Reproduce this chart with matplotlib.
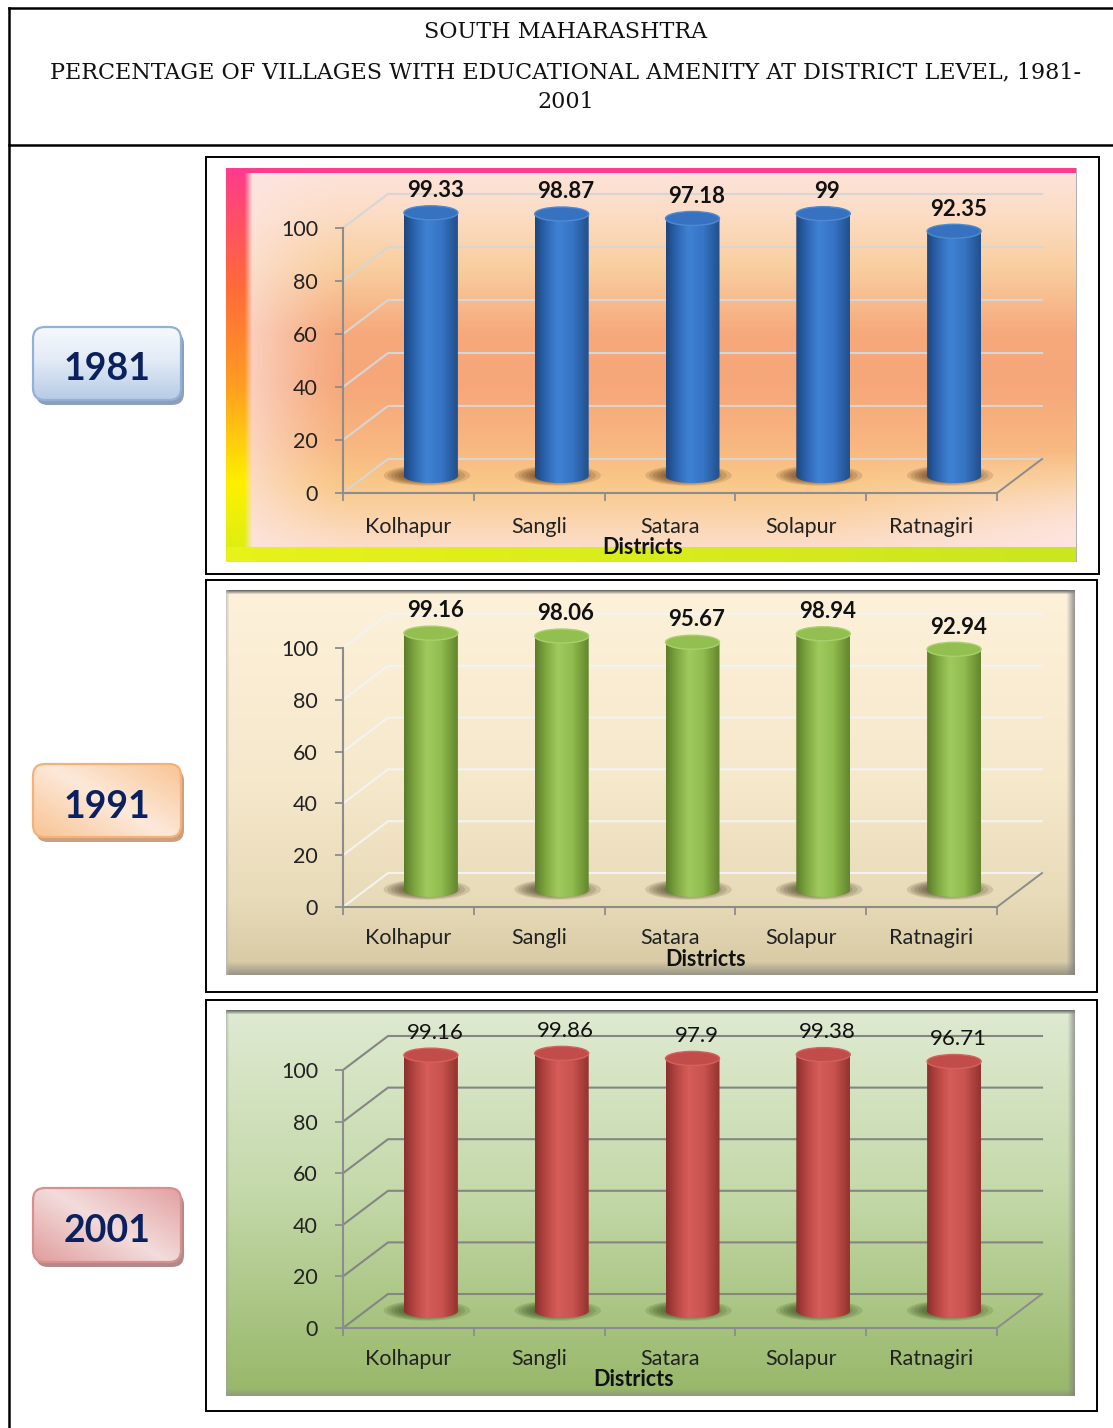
import numpy as np
import matplotlib
matplotlib.use("Agg")
import matplotlib.pyplot as plt
from matplotlib.patches import Ellipse, PathPatch, FancyBboxPatch, Rectangle
from matplotlib.path import Path
from matplotlib.colors import LinearSegmentedColormap, to_rgb

# === data ===
districts = ["Kolhapur", "Sangli", "Satara", "Solapur", "Ratnagiri"]
pct_1981 = [99.33, 98.87, 97.18, 99, 92.35]
pct_1991 = [99.16, 98.06, 95.67, 98.94, 92.94]
pct_2001 = [99.16, 99.86, 97.9, 99.38, 96.71]
y_ticks = [0, 20, 40, 60, 80, 100]
years = ["1981", "1991", "2001"]
title_lines = ["SOUTH MAHARASHTRA",
               "PERCENTAGE OF VILLAGES WITH EDUCATIONAL AMENITY AT DISTRICT LEVEL, 1981-",
               "2001"]

W, H = 1113, 1428
FONT = "Lato"
fig = plt.figure(figsize=(W / 100, H / 100), dpi=100)


def px_axes(x0, y0, x1, y1):
    return fig.add_axes([x0 / W, 1 - y1 / H, (x1 - x0) / W, (y1 - y0) / H])


def blend(stops, t):
    # stops: list of (pos, colour); t: array in 0..1 -> rgb array
    pos = [p for p, _ in stops]
    cols = np.array([to_rgb(c) for _, c in stops])
    out = np.stack([np.interp(t, pos, cols[:, k]) for k in range(3)], axis=-1)
    return out


def bevel(img, side, n, col, strength):
    c = np.array(to_rgb(col))
    a = np.linspace(strength, 0, n)
    if side == "top":
        img[:n] = img[:n] * (1 - a[:, None, None]) + c * a[:, None, None]
    elif side == "bottom":
        a = a[::-1]
        img[-n:] = img[-n:] * (1 - a[:, None, None]) + c * a[:, None, None]
    elif side == "left":
        img[:, :n] = img[:, :n] * (1 - a[None, :, None]) + c * a[None, :, None]
    elif side == "right":
        a = a[::-1]
        img[:, -n:] = img[:, -n:] * (1 - a[None, :, None]) + c * a[None, :, None]
    return img


# === backgrounds ===
def bg_1981(hh, ww):
    u = np.linspace(0, 1, ww)[None, :]
    v = np.linspace(0, 1, hh)
    col = blend([(0, "#fde4dc"), (0.12, "#fcdcc4"), (0.25, "#f9cfa0"), (0.42, "#f6a97c"),
                 (0.55, "#f6a77a"), (0.7, "#f8b680"), (0.8, "#f9c888"), (0.92, "#fbd8b8"),
                 (1, "#fce2dc")], v)
    img = np.repeat(col[:, None, :], ww, axis=1)
    # pale left side and pinkish lower right
    pale = np.array(to_rgb("#fde7e6"))
    wl = np.clip(1 - u / 0.14, 0, 1) ** 1.3 * 0.85
    vv = v[:, None]
    wr = np.clip((u - 0.72) / 0.28, 0, 1) * np.clip((vv - 0.72) / 0.2, 0, 1) * 0.8
    wt = np.maximum(wl, wr)
    img = img * (1 - wt)[..., None] + pale * wt[..., None]
    # left colour strip
    strip = blend([(0, "#ff3a8c"), (0.3, "#ff6a3a"), (0.55, "#ff9c22"),
                   (0.8, "#fff000"), (1, "#d6ee18")], v)
    for k in range(26):
        a = 1.0 if k < 19 else (26 - k) / 8
        img[:, k] = img[:, k] * (1 - a) + strip * a
    img[:6] = to_rgb("#ff3d8c")
    img[-15:] = blend([(0, "#e8f21a"), (1, "#c9e620")], np.linspace(0, 1, ww))[None, :, :]
    img[:, -1] = to_rgb("#b0b0b0")
    return img


def bg_1991(hh, ww):
    v = np.linspace(0, 1, hh)
    col = blend([(0, "#fdf1da"), (0.5, "#f6e8cb"), (0.8, "#e8dbb9"), (1, "#d6c8a2")], v)
    img = np.repeat(col[:, None, :], ww, axis=1)
    img = bevel(img, "top", 5, "#606060", 0.9)
    img = bevel(img, "bottom", 14, "#8a8a80", 0.8)
    img = bevel(img, "right", 9, "#808080", 0.8)
    img = bevel(img, "left", 4, "#b8b8b8", 0.7)
    return img


def bg_2001(hh, ww):
    v = np.linspace(0, 1, hh)
    col = blend([(0, "#dfead2"), (0.45, "#c6daac"), (1, "#97b768")], v)
    img = np.repeat(col[:, None, :], ww, axis=1)
    img = bevel(img, "top", 5, "#606060", 0.9)
    img = bevel(img, "bottom", 8, "#8a8a8a", 0.6)
    img = bevel(img, "right", 8, "#808080", 0.7)
    img = bevel(img, "left", 4, "#a0a0a0", 0.5)
    return img


# === base layer: frame and title ===
base = fig.add_axes([0, 0, 1, 1])
base.set_xlim(0, W)
base.set_ylim(H, 0)
base.axis("off")
base.plot([9, W], [8, 8], color="black", lw=1.8)
base.plot([9, W], [145, 145], color="black", lw=1.8)
base.plot([9, 9], [8, H], color="black", lw=1.8)
for txt, yy in zip(title_lines, [32, 72, 102]):
    base.text(566, yy, txt, ha="center", va="center", family="DejaVu Serif",
              fontsize=16, color="#111111")

panels = [
    dict(vals=pct_1981, frame=(206, 157, 1099, 574), inner=(226, 168, 1077, 562),
         origin=(343, 493), sy=2.65, bg=bg_1981,
         body=["#1c4680", "#2e66b2", "#3f82d4", "#3674c4", "#22508c"],
         top="#3672c0", rim="#4f8ad0", shadow="#4a2608", grid="#d6d6d6",
         bold=True, perc=(266, 370), dist=(643, 548), pad=17.5),
    dict(vals=pct_1991, frame=(206, 580, 1097, 992), inner=(226, 590, 1075, 975),
         origin=(343, 907), sy=2.59, bg=bg_1991,
         body=["#5c7d28", "#7fa842", "#a0ca5e", "#90bb4e", "#64862d"],
         top="#92bf50", rim="#a8d06c", shadow="#332a10", grid="#f3f3f3",
         bold=True, perc=(258, 792), dist=(706, 959), pad=15),
    dict(vals=pct_2001, frame=(206, 1000, 1097, 1411), inner=(226, 1010, 1075, 1396),
         origin=(343, 1328), sy=2.58, bg=bg_2001,
         body=["#8c2f2d", "#b84744", "#d65d59", "#c9534f", "#95332f"],
         top="#c24c49", rim="#d2625e", shadow="#263a0c", grid="#858585",
         bold=False, perc=(254, 1208), dist=(634, 1379), pad=15),
]

SX = 130.8
DEPTH = (45, 34)
AXIS_C = "#8c8c8c"

for p in panels:
    fx0, fy0, fx1, fy1 = p["frame"]
    base.add_patch(Rectangle((fx0, fy0), fx1 - fx0, fy1 - fy0, fill=False,
                             ec="black", lw=1.4, zorder=1))
    x0, y0, x1, y1 = p["inner"]
    bax = px_axes(*p["inner"])
    bax.imshow(p["bg"](y1 - y0, x1 - x0), extent=[0, 1, 0, 1], aspect="auto",
               interpolation="bilinear")
    bax.set_xlim(0, 1)
    bax.set_ylim(0, 1)
    bax.axis("off")

    ax = px_axes(*p["inner"])
    ax.patch.set_alpha(0)
    ox, oy = p["origin"]
    sy = p["sy"]
    dx, dy = DEPTH[0] / SX, DEPTH[1] / sy
    n = len(p["vals"])

    # back wall + floor
    for t in y_ticks:
        ax.plot([0, dx, n + dx], [t, t + dy, t + dy], color=p["grid"], lw=1.5, zorder=1)
    ax.plot([n, n + dx], [0, dy], color=AXIS_C, lw=1.4, zorder=1)

    # cylinders
    cmap = LinearSegmentedColormap.from_list("cyl", list(zip([0, 0.2, 0.42, 0.7, 1], p["body"])))
    r = 27 / SX
    ry = 7 / sy
    base_y = dy / 2
    for i, val in enumerate(p["vals"]):
        cx = i + 0.5 + dx / 2
        top = base_y + val
        # soft shadow on the floor, heavier to the left
        for k in range(9):
            f = 1 - k / 10
            ax.add_patch(Ellipse((cx - (4 + 6 * (1 - f)) / SX, base_y + 0.5 / sy),
                                 2 * r * 1.6 * f, 2 * ry * 1.45 * f, fc=p["shadow"],
                                 ec="none", alpha=0.14, zorder=2))
        tt = np.linspace(0, -np.pi, 40)
        verts = [(cx - r, top), (cx + r, top)] + \
                [(cx + r * np.cos(a), base_y + ry * np.sin(a)) for a in tt] + [(cx - r, top)]
        codes = [Path.MOVETO] + [Path.LINETO] * (len(verts) - 2) + [Path.CLOSEPOLY]
        body = PathPatch(Path(verts, codes), transform=ax.transData, fc="none", ec="none")
        ax.add_patch(body)
        im = ax.imshow(np.linspace(0, 1, 64)[None, :], cmap=cmap, aspect="auto",
                       extent=[cx - r, cx + r, base_y - ry, top], zorder=3,
                       interpolation="bilinear")
        im.set_clip_path(body)
        ax.add_patch(Ellipse((cx, top), 2 * r, 2 * ry, fc=p["top"], ec=p["rim"],
                             lw=1.0, zorder=4))
        ax.annotate(f"{val:g}", (cx, top), xytext=(3, 16), textcoords="offset points",
                    ha="center", va="center", family=FONT, fontsize=16,
                    fontweight="bold" if p["bold"] else "normal", color="#111111",
                    zorder=5)

    # front axes through the library spines/ticks
    for s in ["top", "right"]:
        ax.spines[s].set_visible(False)
    ax.spines["left"].set_position(("data", 0))
    ax.spines["left"].set_bounds(0, 100)
    ax.spines["bottom"].set_position(("data", 0))
    ax.spines["bottom"].set_bounds(0, n)
    for s in ["left", "bottom"]:
        ax.spines[s].set_color(AXIS_C)
        ax.spines[s].set_linewidth(1.5)
        ax.spines[s].set_zorder(1.5)
    ax.set_yticks(y_ticks)
    ax.set_yticklabels([str(t) for t in y_ticks], family=FONT, fontsize=15.5, color="#222222")
    ax.set_xticks(range(n + 1))
    ax.set_xticklabels([])
    ax.set_xticks(np.arange(n) + 0.5, minor=True)
    ax.set_xticklabels(districts, minor=True, family=FONT, fontsize=15.5, color="#222222")
    ax.tick_params(axis="both", which="major", direction="out", length=6, width=1.3,
                   color=AXIS_C)
    ax.tick_params(axis="y", pad=12)
    ax.tick_params(axis="x", which="minor", length=0, pad=p["pad"])
    ax.set_xlim((x0 - ox) / SX, (x1 - ox) / SX)
    ax.set_ylim((oy - y1) / sy, (oy - y0) / sy)

    base.text(*p["perc"], "Percentage", rotation=90, ha="center", va="center",
              family=FONT, fontsize=15.5, fontweight="bold", color="#111111", zorder=10)
    fig.text(p["dist"][0] / W, 1 - p["dist"][1] / H, "Districts", ha="center", va="center",
             family=FONT, fontsize=15.5, fontweight="bold", color="#111111", zorder=20)

# === year boxes ===
boxes = [
    dict(box=(33, 327, 181, 400), stops=[(0, "#f6f9fd"), (0.45, "#e3ebf6"), (1, "#b6cbe6")],
         diag=False, edge="#93b1d8", shadow="#8d9fb8"),
    dict(box=(33, 764, 181, 837), stops=[(0, "#f9c494"), (0.5, "#fde9da"), (1, "#f8c392")],
         diag=True, edge="#f4b27a", shadow="#c9a080"),
    dict(box=(33, 1188, 181, 1262), stops=[(0, "#e3a0a0"), (0.5, "#f3dcdc"), (1, "#e09c9c")],
         diag=True, edge="#d8908f", shadow="#b38888"),
]
for lab, b in zip(years, boxes):
    x0, y0, x1, y1 = b["box"]
    w, h = x1 - x0, y1 - y0
    yax = px_axes(x0 - 2, y0 - 2, x1 + 6, y1 + 8)
    yax.set_xlim(-2, w + 6)
    yax.set_ylim(-8, h + 2)
    yax.axis("off")
    style = "round,pad=0,rounding_size=12"
    yax.add_patch(FancyBboxPatch((3, -5), w, h, boxstyle=style, fc=b["shadow"], ec="none",
                                 zorder=1))
    frame = FancyBboxPatch((0, 0), w, h, boxstyle=style, fc="none", ec=b["edge"], lw=1.6,
                           zorder=3)
    yax.add_patch(frame)
    if b["diag"]:
        uu = np.linspace(0, 1, 120)[None, :]
        vv = np.linspace(0, 1, 60)[:, None]
        t = np.clip(1 - (0.55 * uu + 0.45 * (1 - vv)), 0, 1)
    else:
        t = np.repeat(np.linspace(0, 1, 60)[:, None], 120, axis=1)
    g = blend(b["stops"], t)
    im = yax.imshow(g, extent=[0, w, 0, h], aspect="auto", zorder=2, interpolation="bilinear")
    im.set_clip_path(frame)
    yax.text(w / 2, h / 2 - 6, lab, ha="center", va="center", family=FONT, fontsize=27,
             fontweight="bold", color="#0b215e", zorder=4)

fig.savefig("out.png", dpi=100)
